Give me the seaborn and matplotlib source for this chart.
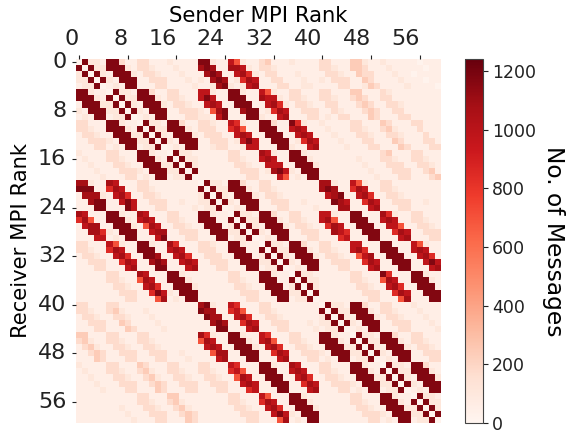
import numpy as np
import pandas as pd
import matplotlib
matplotlib.use("Agg")
import matplotlib.pyplot as plt
import seaborn as sns

# message counts, one char per cell, see LEVELS
LEVELS = {"0": 15, "1": 55, "2": 110, "3": 170, "4": 240, "5": 500, "6": 700,
          "7": 850, "8": 980, "9": 1080, "a": 1170}

ROWS_0_19 = [
    "0a221 aa311 33111 21111 aa211 86211 34111 21111 33111 44211 21111 10111",
    "a0a22 aaa21 33211 12111 9a911 99821 33211 11111 33211 44311 12111 11011",
    "2a0a2 1aaa2 13321 11211 19a91 18972 13311 12111 13321 14331 11211 01111",
    "22a0a 21aaa 11333 11121 219a9 12798 11331 11211 21333 11431 11121 11011",
    "122a0 121aa 11133 11112 1129a 21289 11133 11221 11133 11243 11112 11110",
    "aa211 0a221 aa311 33111 88211 aa211 86211 33111 33111 44111 32111 11111",
    "aaa21 a0a22 aaa21 33211 8a811 aaa11 98821 33211 33211 34311 33111 11111",
    "1aaa2 2a0a2 1aaa2 13321 18981 1aaa1 18972 13321 13311 13431 13321 11111",
    "21aaa 22a0a 21aaa 11333 2169a 119aa 12798 11333 11321 11343 11331 11111",
    "121aa 122a0 121aa 11133 2218a 111aa 21189 11133 12133 11143 11133 11111",
    "33111 aa211 0a221 aa311 33211 87211 aa311 a7211 21111 33111 43111 33111",
    "33211 aaa21 a0a22 aaa21 33311 78611 aaa11 89811 12111 33211 34211 13111",
    "13321 1aaa2 2a0a2 1aaa2 13331 18981 1aaa1 18981 11211 13321 13321 11311",
    "11333 21aaa 22a0a 21aaa 11333 128a8 11aaa 12798 11121 11331 11431 11331",
    "11133 121aa 122a0 121aa 11233 11288 111aa 21189 11112 11133 11143 11133",
    "21111 33111 aa211 0a221 11111 33111 98211 aa211 11111 11111 34111 33111",
    "12111 33211 aaa21 a0a22 11111 33211 89811 aaa21 11111 12111 33211 33211",
    "11211 13321 1aaa2 2a0a2 11111 13321 18881 1aaa2 11111 11211 13331 13321",
    "11121 11333 21aaa 22a0a 11111 11333 129a8 21aaa 11111 11121 11333 11341",
    "11112 11133 121aa 122a0 11111 11133 11186 121aa 11111 11112 11133 11134",
]

ROWS_20_39 = [
    "99211 98111 33111 11111 0a221 aa311 33111 11111 99211 86211 33111 11111",
    "aaa11 79811 33211 11111 a0a22 aaa21 33211 11111 9a911 79811 33211 11111",
    "19992 18971 13321 11111 2a0a2 1aaa2 13321 11111 189a1 18971 13321 11111",
    "119aa 118a8 11333 11211 22a0a 21aaa 11333 11211 11a98 11798 11333 11211",
    "111aa 111a8 11133 11112 122a0 121aa 11133 11112 11199 11189 11133 11111",
    "98111 aa211 98111 33111 aa211 0a221 aa311 33111 88211 aa111 97211 33111",
    "79611 aaa21 89811 33211 aaa11 a0a22 aaa21 33211 89611 aaa11 89811 33211",
    "18991 1aaa2 16981 13321 1aaa1 2a0a2 1aaa2 13321 17981 1aaa1 18861 13321",
    "11997 21aaa 11899 11333 11aaa 22a0a 21aaa 11333 11987 11aaa 11798 11333",
    "11188 121aa 1118a 11133 111aa 122a0 121aa 11133 11178 111aa 11189 11133",
    "33111 86211 aa211 97111 33211 aa211 0a221 aa311 33111 88111 aa111 86211",
    "33211 79811 aaa11 89811 33311 aaa11 a0a22 aaa21 33211 89711 aaa11 89811",
    "13321 18971 1aa91 18971 13331 1aaa1 2a0a2 1aaa2 13321 16891 1aaa1 18971",
    "11333 11798 119a9 11898 11333 11aaa 22a0a 21aaa 11333 11798 11aaa 118a8",
    "11133 11189 111aa 11189 11133 111aa 122a0 121aa 11133 11189 111aa 11189",
    "11111 33111 98111 aa211 11111 33111 aa211 0a221 11111 33111 a7111 aa211",
    "11111 33211 69811 aaa21 11111 33211 aaa11 a0a22 11111 33211 69811 aaa21",
    "11111 13321 18971 1aaa2 11111 13321 1aaa1 2a0a2 11111 13321 18971 1aaa1",
    "11111 11333 117a8 21aaa 11111 11333 11aaa 22a0a 11111 11333 11798 11aaa",
    "11111 11133 11169 121aa 11111 11133 111aa 122a0 11111 11133 11169 111aa",
]

ROWS_40_59 = [
    "33111 33111 11111 11111 9a211 87111 33111 11111 0a221 aa311 33111 21111",
    "33211 34211 12111 11111 a9911 78611 33211 11111 a0a22 aaa21 33211 12111",
    "13321 13321 11211 11111 1a991 18971 13321 11111 2a0a2 1aaa2 13321 11211",
    "11333 11431 11121 11111 119a9 11798 11333 11121 22a0a 21aaa 11333 11121",
    "11133 11143 11112 11111 111aa 11189 11133 11112 122a0 121aa 11133 11112",
    "44111 33111 33111 11111 97211 aa211 87111 33111 aa211 0a221 aa311 33111",
    "34211 33211 33211 11111 69811 aaa21 89611 33211 aaa21 a0a22 aaa21 33211",
    "13421 13321 13321 11111 18981 1aaa2 18971 13321 1aaa2 2a0a2 1aaa2 13321",
    "11343 11333 11333 11211 11699 11aaa 11798 11333 21aaa 22a0a 21aaa 11333",
    "11143 11133 11133 11121 11189 111aa 11189 11133 121aa 122a0 121aa 11133",
    "21111 33111 43111 33111 33111 87111 aa211 98111 33111 aa211 0a221 aa311",
    "12111 33211 34211 33211 33211 78611 aaa11 89811 33211 aaa21 a0a22 aaa21",
    "11211 13321 13421 13321 13321 16981 1aaa1 18971 13321 1aaa2 2a0a2 1aaa2",
    "11121 11333 11343 11333 11333 11898 11aaa 11798 11333 21aaa 22a0a 21aaa",
    "11112 11133 11143 11133 11133 11178 111aa 11189 11133 121aa 122a0 121aa",
    "11111 11111 33111 44111 11111 33111 86111 aa211 11111 33111 aa211 0a221",
    "11111 11111 33211 34211 11111 33211 79811 aaa21 11111 33211 aaa21 a0a22",
    "11111 11211 13321 13421 11111 13321 18971 1aaa2 11111 13321 1aaa2 2a0a2",
    "11111 11121 11333 11343 11111 11333 118a8 21aaa 11111 11333 21aaa 22a0a",
    "11111 11112 11133 11143 11111 11133 11169 121aa 11111 11133 121aa 122a0",
]

RANK_TICKS = [0, 8, 16, 24, 32, 40, 48, 56]
CBAR_TICKS = [0, 200, 400, 600, 800, 1000, 1200]
VMAX = 1241


def main():
    rows = ROWS_0_19 + ROWS_20_39 + ROWS_40_59
    counts = [[LEVELS[c] for c in r.replace(" ", "")] for r in rows]
    df = pd.DataFrame(counts)

    fig = plt.figure(figsize=(5.68, 4.32), dpi=100)
    ax = fig.add_axes([76 / 568, 9 / 432, 365 / 568, 364 / 432])
    cax = fig.add_axes([464.5 / 568, 9 / 432, 18.5 / 568, 364 / 432])

    sns.heatmap(df, ax=ax, cbar_ax=cax, cmap="Reds", vmin=0, vmax=VMAX)

    ax.xaxis.tick_top()
    ax.xaxis.set_label_position("top")
    ax.set_xticks(np.array(RANK_TICKS) + 0.5)
    ax.set_yticks(np.array(RANK_TICKS) + 0.5)
    # the sender labels sit left of their ticks in the original
    ax.set_xticklabels(RANK_TICKS, rotation=0, ha="right", fontsize=16)
    ax.set_yticklabels(RANK_TICKS, rotation=0, fontsize=16)
    ax.tick_params(axis="both", length=3, width=0.8, pad=4, colors="#222222")
    ax.set_xlabel("Sender MPI Rank", fontsize=15.2, labelpad=5)
    ax.set_ylabel("Receiver MPI Rank", fontsize=15.2, labelpad=5)

    cbar = ax.collections[0].colorbar
    cbar.set_ticks(CBAR_TICKS)
    cbar.ax.tick_params(labelsize=12.5, length=3.5, width=0.8, pad=3, colors="#222222")
    cbar.outline.set_linewidth(0.8)
    cbar.outline.set_edgecolor("#444444")
    cbar.set_label("No. of Messages", fontsize=16.8, rotation=270, labelpad=21)

    plt.savefig("out.png", dpi=100)


if __name__ == "__main__":
    main()
